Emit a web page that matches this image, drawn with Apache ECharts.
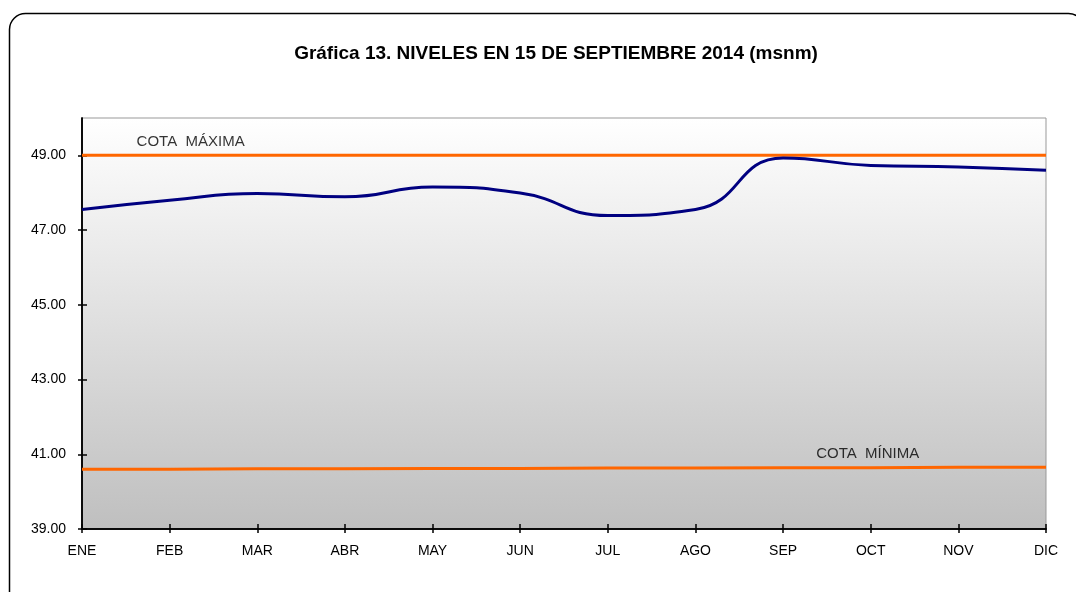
<!DOCTYPE html>
<html>
<head>
<meta charset="utf-8">
<script src="https://cdn.jsdelivr.net/npm/echarts@6/dist/echarts.min.js"></script>
<style>
html,body{margin:0;padding:0;background:#fff;}
#c{width:1076px;height:592px;}
</style>
</head>
<body>
<div id="c"></div>
<script>
const categories = ['ENE','FEB','MAR','ABR','MAY','JUN','JUL','AGO','SEP','OCT','NOV','DIC'];
const niveles = [47.55, 47.80, 47.98, 47.89, 48.15, 47.99, 47.39, 47.55, 48.93, 48.73, 48.69, 48.60];
const cotaMaxima = [49.00, 49.00, 49.00, 49.00, 49.00, 49.00, 49.00, 49.00, 49.00, 49.00, 49.00, 49.00];
const cotaMinima = [40.60, 40.60, 40.61, 40.61, 40.62, 40.62, 40.63, 40.63, 40.64, 40.64, 40.65, 40.65];
const yTicks = [39, 41, 43, 45, 47, 49];
const title = 'Gráfica 13. NIVELES EN 15 DE SEPTIEMBRE 2014 (msnm)';

const FONT = "'Liberation Sans',Arial,sans-serif";
const chart = echarts.init(document.getElementById('c'), null, {renderer:'canvas'});

const yBase = {
  type:'value', min:39, max:50, interval:2, position:'left',
  splitLine:{show:false},
  axisLine:{show:true, lineStyle:{color:'#000', width:1.5}},
};
const xBase = {
  type:'category', data:categories, boundaryGap:false, position:'bottom',
  splitLine:{show:false},
  axisLine:{show:true, lineStyle:{color:'#000', width:1.5}},
};

chart.setOption({
  animation:false,
  backgroundColor:'#fff',
  title:{
    text:title, left:551, top:39, textAlign:'center',
    textStyle:{fontFamily:FONT, fontWeight:'bold', fontSize:19, color:'#000'}
  },
  grid:{
    left:82, right:30, top:118, bottom:63, show:true, borderColor:'#999', borderWidth:1,
    backgroundColor:new echarts.graphic.LinearGradient(0,0,0,1,[{offset:0,color:'#ffffff'},{offset:1,color:'#bfbfbf'}])
  },
  xAxis:[
    Object.assign({}, xBase, {
      axisTick:{show:true, inside:false, length:4, lineStyle:{color:'#000', width:1.5}},
      axisLabel:{fontFamily:FONT, fontSize:14, color:'#000', margin:15}
    }),
    Object.assign({}, xBase, {
      axisTick:{show:true, inside:true, length:5, lineStyle:{color:'#000', width:1.5}},
      axisLabel:{show:false}
    })
  ],
  yAxis:[
    Object.assign({}, yBase, {
      axisTick:{show:true, inside:false, length:4, customValues:yTicks, lineStyle:{color:'#000', width:1.5}},
      axisLabel:{fontFamily:FONT, fontSize:14, color:'#000', margin:16, customValues:yTicks,
        formatter:v=>v.toFixed(2)}
    }),
    Object.assign({}, yBase, {
      axisTick:{show:true, inside:true, length:5, customValues:yTicks, lineStyle:{color:'#000', width:1.5}},
      axisLabel:{show:false}
    })
  ],
  series:[
    {
      type:'line', data:cotaMinima, symbol:'none', z:3,
      lineStyle:{color:'#ff6600', width:3}
    },
    {
      type:'line', data:cotaMaxima, symbol:'none', z:3,
      lineStyle:{color:'#ff6600', width:3}
    },
    {
      type:'line', data:niveles, symbol:'none', smooth:0.5, z:4,
      lineStyle:{color:'#000080', width:3}
    },
    {
      type:'scatter', symbolSize:0, silent:true,
      data:[
        {value:[1, cotaMaxima[1]], label:{show:true, color:'#000', formatter:'COTA  MÁXIMA', position:'top', offset:[21,-1]}},
        {value:[9, cotaMinima[9]], label:{show:true, color:'#000', formatter:'COTA  MÍNIMA', position:'top', offset:[-3,-1]}}
      ],
      label:{fontFamily:FONT, fontSize:15, color:'#000'}
    }
  ],
  graphic:[
    {type:'rect', shape:{x:9.5, y:13.5, width:1075, height:595, r:16}, style:{fill:null, stroke:'#000', lineWidth:1.5}, z:-1, silent:true}
  ]
});
</script>
</body>
</html>
